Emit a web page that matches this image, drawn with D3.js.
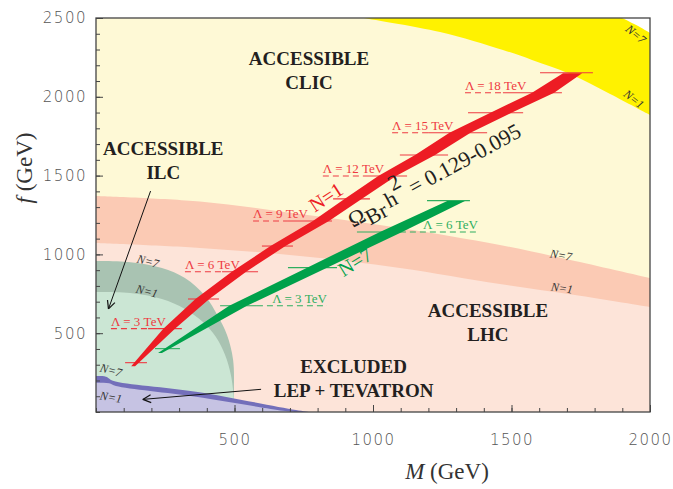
<!DOCTYPE html>
<html><head><meta charset="utf-8">
<script src="https://cdn.jsdelivr.net/npm/d3@7"></script>
<style>body{margin:0;background:#fff}</style>
</head><body>
<svg id="chart" width="673" height="489"></svg>
<script>
// ---------- data (M in GeV, f in GeV) ----------
const xTicksMajor = [500, 1000, 1500, 2000];
const yTicksMajor = [500, 1000, 1500, 2000, 2500];

// CLIC reach curves
const clicN1 = [[964,2500],[1242,2411],[1469,2297],[1574,2234],[1711,2145],[1856,2018],[2000,1885]];
const clicN7 = [[1899,2500],[1950,2455],[2000,2405]];
// LHC reach curves
const lhcN7 = [[0,1371],[375,1336],[736,1256],[1097,1168],[1458,1060],[1729,958],[2000,850]];
const lhcN1 = [[0,1072],[375,1041],[736,990],[1097,914],[1458,812],[1729,742],[2000,666]];
// ILC reach curves
const ilcN7 = [[0,958],[116,952],[238,914],[321,850],[394,736],[440,609],[473,489],[495,330],[498,108],[498,0]];
const ilcN1 = [[0,761],[123,755],[238,717],[321,654],[386,571],[433,476],[466,362],[487,235],[498,76],[498,0]];
// LEP + Tevatron exclusion
const exclN7 = [[0,228],[36,224],[61,199],[361,129],[722,13],[773,0]];
const exclN1 = [[0,186],[47,182],[72,165],[361,97],[675,8],[720,0]];

// relic density band N=1 (red): f rows, left and right M edges
const redF  = [290, 529, 717, 890, 1053, 1212, 1352, 1497, 1631, 1772, 1899, 2026, 2149];
const redMl = [127, 243, 359, 490, 630, 783, 897, 1019, 1152, 1276, 1424, 1574, 1686];
const redMr = [141, 285, 409, 542, 684, 841, 959, 1083, 1224, 1352, 1500, 1654, 1755];
// relic density band N=7 (green)
const greenF  = [375, 674, 916, 1142, 1339];
const greenMl = [224, 481, 762, 1025, 1268];
const greenMr = [238, 545, 834, 1105, 1332];

// Lambda contour segments (red)
const redTickF  = [313, 529, 717, 890, 1053, 1212, 1352, 1497, 1631, 1772, 1899, 2026, 2153];
const redTickM0 = [105, 188, 332, 455, 599, 693, 856, 964, 1097, 1199, 1343, 1469, 1603];
const redTickM1 = [184, 310, 444, 585, 711, 852, 989, 1123, 1271, 1412, 1542, 1682, 1794];
const redLambda = [3, 6, 9, 12, 15, 18];
const redLabelF = [529, 890, 1212, 1497, 1772, 2026];
const redDashM0 = [54, 321, 567, 819, 1069, 1332];
const redDashM1 = [188, 455, 693, 964, 1199, 1469];
// Lambda contour segments (green)
const greenTickF  = [402, 674, 916, 1142, 1341];
const greenTickM0 = [213, 448, 693, 942, 1195];
const greenTickM1 = [303, 581, 870, 1097, 1350];
const greenLambda = [3, 6];
const greenLabelF = [674, 1142];
const greenDashM0 = [581, 1097];
const greenDashM1 = [834, 1379];

// annotations
const regionNames = [["ACCESSIBLE","CLIC"],["ACCESSIBLE","ILC"],["ACCESSIBLE","LHC"],["EXCLUDED","LEP + TEVATRON"]];
const regionPos = [[769,2200],[243,1630],[1415,600],[930,245]];
const nLabels = ["N=7","N=1","N=7","N=1","N=7","N=1","N=7","N=1"];
const nLabelPos = [[188,958],[184,768],[1679,996],[1682,787],[1949,2398],[1942,1986],[54,266],[54,95]];
const nLabelRot = [15,15,10,8,40,38,15,10];
const ilcArrow = [[197,1402],[45,654]];
const exclArrow = [[596,144],[169,80]];

// ---------- drawing ----------
const svg = d3.select("#chart");
const x = d3.scaleLinear().domain([0,2000]).range([96,650]);
const y = d3.scaleLinear().domain([0,2500]).range([412,18]);
const [x0,x1] = x.domain(), [y0,y1] = y.domain();

svg.append("defs").append("clipPath").attr("id","clip")
  .append("rect").attr("x",x(x0)).attr("y",y(y1)).attr("width",x(x1)-x(x0)).attr("height",y(y0)-y(y1));

const g = svg.append("g").attr("clip-path","url(#clip)");
const lineCR = d3.line().x(d=>x(d[0])).y(d=>y(d[1])).curve(d3.curveCatmullRom.alpha(0.5));
const lineL = d3.line().x(d=>x(d[0])).y(d=>y(d[1]));
function area(pts, corners){
  return lineCR(pts) + corners.map(c=>"L"+x(c[0])+","+y(c[1])).join("") + "Z";
}

g.append("rect").attr("x",x(x0)).attr("y",y(y1)).attr("width",x(x1)-x(x0)).attr("height",y(y0)-y(y1)).attr("fill","#fef9d6");
// CLIC
g.append("path").attr("d",area(clicN1,[[x1,y1]])).attr("fill","#fff200");
g.append("path").attr("d",area(clicN7,[[x1,y1]])).attr("fill","#ffffff");
// LHC
g.append("path").attr("d",area(lhcN7,[[x1,y0],[x0,y0]])).attr("fill","#fbcab4");
g.append("path").attr("d",area(lhcN1,[[x1,y0],[x0,y0]])).attr("fill","#fde4d9");
// ILC
g.append("path").attr("d",area(ilcN7,[[x0,y0]])).attr("fill","#a9c3b2");
g.append("path").attr("d",area(ilcN1,[[x0,y0]])).attr("fill","#cbe6d4");
// Excluded
g.append("path").attr("d",area(exclN7,[[x0,y0]])).attr("fill","#736fba");
g.append("path").attr("d",area(exclN1,[[x0,y0]])).attr("fill","#c6c3e3");

// Lambda lines
function lambdaLines(tf, m0, m1, color){
  tf.forEach((f,i)=>{
    g.append("line").attr("x1",x(m0[i])).attr("x2",x(m1[i])).attr("y1",y(f)).attr("y2",y(f))
      .attr("stroke",color).attr("stroke-width",1.1);
  });
}
function dashLines(lf, d0, d1, color){
  lf.forEach((f,i)=>{
    g.append("line").attr("x1",x(d0[i])).attr("x2",x(d1[i])).attr("y1",y(f)).attr("y2",y(f))
      .attr("stroke",color).attr("stroke-width",1.1).attr("stroke-dasharray","6,4");
  });
}
lambdaLines(redTickF, redTickM0, redTickM1, "#ee3a42");
dashLines(redLabelF, redDashM0, redDashM1, "#ee3a42");
lambdaLines(greenTickF, greenTickM0, greenTickM1, "#2fae5f");
dashLines(greenLabelF, greenDashM0, greenDashM1, "#2fae5f");

// bands
function band(F, Ml, Mr, color){
  const left = F.map((f,i)=>[Ml[i],f]);
  const right = F.map((f,i)=>[Mr[i],f]).reverse();
  g.append("path").attr("d", lineL(left) + lineL(right).replace(/^M/,"L") + "Z").attr("fill",color);
}
band(redF, redMl, redMr, "#ed1c24");
band(greenF, greenMl, greenMr, "#00a14b");

// Lambda labels
redLambda.forEach((L,i)=>{
  g.append("text").attr("x",x(redDashM0[i])).attr("y",y(redLabelF[i])-3)
    .attr("font-family","Liberation Serif").attr("font-size",13).attr("fill","#ee3a42")
    .text("Λ = "+L+" TeV");
});
greenLambda.forEach((L,i)=>{
  g.append("text").attr("x",x(greenDashM1[i])).attr("y",y(greenLabelF[i])-3).attr("text-anchor","end")
    .attr("font-family","Liberation Serif").attr("font-size",13).attr("fill","#2fae5f")
    .text("Λ = "+L+" TeV");
});

// band labels
g.append("text").attr("transform",`translate(${x(830)},${y(1364)}) rotate(-33)`).attr("text-anchor","middle").attr("dy","0.35em")
  .attr("font-family","Liberation Serif").attr("font-size",20).attr("fill","#ed1c24").text("N=1");
g.append("text").attr("transform",`translate(${x(935)},${y(952)}) rotate(-32)`).attr("text-anchor","middle").attr("dy","0.35em")
  .attr("font-family","Liberation Serif").attr("font-size",20).attr("fill","#00a14b").text("N=7");

const om = g.append("text").attr("transform",`translate(${x(928)},${y(1168)}) rotate(-28.5)`)
  .attr("font-family","Liberation Serif").attr("font-size",22).attr("fill","#231f20");
om.append("tspan").text("Ω");
om.append("tspan").attr("dy",6).text("Br");
om.append("tspan").attr("dy",-6).attr("dx",3).text("h");
om.append("tspan").attr("dy",-13).attr("dx",0).text("2");
om.append("tspan").attr("dy",13).text(" = 0.129-0.095");

// region names
regionNames.forEach((nm,i)=>{
  const t = g.append("text").attr("x",x(regionPos[i][0])).attr("y",y(regionPos[i][1]))
    .attr("text-anchor","middle").attr("font-family","Liberation Serif").attr("font-weight","bold")
    .attr("font-size",19).attr("fill","#231f20");
  nm.forEach((s,j)=>t.append("tspan").attr("x",x(regionPos[i][0])).attr("dy",j?24:0).text(s));
});

// small N labels
nLabels.forEach((s,i)=>{
  g.append("text").attr("transform",`translate(${x(nLabelPos[i][0])},${y(nLabelPos[i][1])}) rotate(${nLabelRot[i]})`)
    .attr("text-anchor","middle").attr("dy","0.35em").attr("font-family","Liberation Serif").attr("font-style","italic")
    .attr("font-size",12).attr("fill","#333").text(s);
});

// arrows
function arrow(a){
  const p0=[x(a[0][0]),y(a[0][1])], p1=[x(a[1][0]),y(a[1][1])];
  g.append("line").attr("x1",p0[0]).attr("y1",p0[1]).attr("x2",p1[0]).attr("y2",p1[1]).attr("stroke","#111").attr("stroke-width",1);
  const ang=Math.atan2(p0[1]-p1[1],p0[0]-p1[0]);
  [0.45,-0.45].forEach(da=>{
    g.append("line").attr("x1",p1[0]).attr("y1",p1[1])
      .attr("x2",p1[0]+9*Math.cos(ang+da)).attr("y2",p1[1]+9*Math.sin(ang+da))
      .attr("stroke","#111").attr("stroke-width",1.2);
  });
}
arrow(ilcArrow);
arrow(exclArrow);

// axes
const tickFont = g2 => g2.selectAll("text").attr("font-family","DejaVu Sans").attr("font-weight",300)
  .attr("font-size",15).attr("fill","#555").attr("letter-spacing","1.5px");
const minorX = d3.range(0,2001,100), minorY = d3.range(0,2501,100);
svg.append("g").attr("transform",`translate(0,${y(y0)})`)
  .call(d3.axisBottom(x).tickValues(minorX).tickSize(-4).tickFormat(""))
  .call(a=>a.select(".domain").remove()).selectAll("line").attr("stroke","#444");
svg.append("g").attr("transform",`translate(0,${y(y0)})`)
  .call(d3.axisBottom(x).tickValues(xTicksMajor).tickSize(-7).tickPadding(22).tickFormat(d3.format("d")))
  .call(a=>a.select(".domain").remove()).call(tickFont).selectAll("line").attr("stroke","#444");
svg.append("g").attr("transform",`translate(${x(x0)},0)`)
  .call(d3.axisLeft(y).tickValues(minorY).tickSize(-4).tickFormat(""))
  .call(a=>a.select(".domain").remove()).selectAll("line").attr("stroke","#444");
svg.append("g").attr("transform",`translate(${x(x0)},0)`)
  .call(d3.axisLeft(y).tickValues(yTicksMajor).tickSize(-7).tickPadding(9).tickFormat(d3.format("d")))
  .call(a=>a.select(".domain").remove()).call(tickFont).selectAll("line").attr("stroke","#444");

svg.append("rect").attr("x",x(x0)).attr("y",y(y1)).attr("width",x(x1)-x(x0)).attr("height",y(y0)-y(y1))
  .attr("fill","none").attr("stroke","#444").attr("stroke-width",1.3);

// axis titles
const xt = svg.append("text").attr("x",447).attr("y",479).attr("text-anchor","middle")
  .attr("font-family","Liberation Serif").attr("font-size",23).attr("fill","#333");
xt.append("tspan").attr("font-style","italic").text("M");
xt.append("tspan").text(" (GeV)");
const yt = svg.append("text").attr("transform","translate(32,168) rotate(-90)").attr("text-anchor","middle")
  .attr("font-family","Liberation Serif").attr("font-size",23).attr("fill","#333");
yt.append("tspan").attr("font-style","italic").text("f");
yt.append("tspan").text(" (GeV)");
</script>
</body></html>
